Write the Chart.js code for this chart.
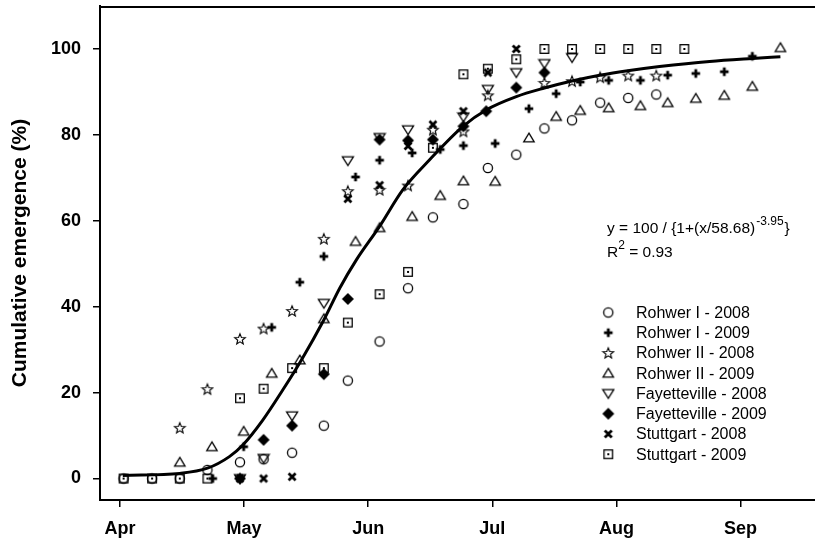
<!DOCTYPE html>
<html>
<head>
<meta charset="utf-8">
<script src="https://cdn.jsdelivr.net/npm/chart.js@4.4.1/dist/chart.umd.min.js"></script>
<style>
  html, body { margin: 0; padding: 0; background: #fff; }
  #wrap { width: 815px; height: 539px; }
</style>
</head>
<body>
<div id="wrap"><canvas id="chart" width="815" height="539"></canvas></div>
<script>
// x values are days after 1 April
const MONTH_TICKS = [0, 30.5, 61, 91.5, 122, 152.5];
const MONTH_LABELS = ["Apr", "May", "Jun", "Jul", "Aug", "Sep"];
const Y_TICKS = [0, 20, 40, 60, 80, 100];

const rohwer1_2008_days = [0.9, 7.9, 14.7, 21.5, 29.5, 35.3, 42.3, 50.1, 56.0, 63.8, 70.8, 76.9, 84.4, 90.4, 97.4, 104.3, 111.1, 118.0, 124.9, 131.8];
const rohwer1_2008_vals = [0, 0, 0, 2.0, 3.8, 4.5, 6.0, 12.3, 22.8, 31.9, 44.3, 60.8, 63.9, 72.3, 75.4, 81.5, 83.4, 87.5, 88.6, 89.4];

const rohwer1_2009_days = [22.8, 30.4, 37.3, 44.2, 50.1, 57.9, 63.8, 71.8, 78.7, 84.4, 92.2, 100.5, 107.2, 113.1, 120.1, 127.9, 134.6, 141.5, 148.5, 155.4];
const rohwer1_2009_vals = [0, 7.4, 35.2, 45.7, 51.7, 70.2, 74.1, 75.8, 76.6, 77.5, 78.0, 86.1, 89.6, 92.3, 92.7, 92.7, 93.9, 94.3, 94.7, 98.3];

const rohwer2_2008_days = [14.7, 21.5, 29.5, 35.3, 42.3, 50.1, 56.0, 63.8, 70.8, 76.9, 84.4, 90.4, 104.3, 111.1, 118.0, 124.9, 131.8];
const rohwer2_2008_vals = [11.8, 20.8, 32.5, 34.9, 39.0, 55.8, 66.9, 67.2, 68.2, 81.2, 80.8, 89.2, 92.1, 92.5, 93.4, 93.8, 93.8];

const rohwer2_2009_days = [14.7, 22.6, 30.4, 37.3, 44.2, 50.1, 57.9, 63.8, 71.8, 78.7, 84.4, 92.2, 100.5, 107.2, 113.1, 120.1, 127.9, 134.6, 141.5, 148.5, 155.4, 162.3];
const rohwer2_2009_vals = [3.8, 7.4, 11.0, 24.5, 27.6, 37.2, 55.2, 58.4, 61.0, 65.9, 69.3, 69.2, 79.3, 84.3, 85.7, 86.3, 86.8, 87.5, 88.5, 89.2, 91.3, 100.3];

const fay_2008_days = [29.5, 35.3, 42.3, 50.1, 56.0, 63.8, 70.8, 84.4, 90.4, 97.4, 104.3, 111.1];
const fay_2008_vals = [0, 4.7, 14.6, 40.8, 74.0, 79.4, 81.2, 84.2, 90.6, 94.5, 96.6, 98.0];

const fay_2009_days = [29.5, 35.3, 42.3, 50.1, 56.0, 63.8, 70.8, 76.9, 84.4, 90.0, 97.4, 104.3];
const fay_2009_vals = [0, 9.0, 12.3, 24.3, 41.8, 78.9, 78.7, 78.9, 82.0, 85.5, 91.0, 94.5];

const stutt_2008_days = [29.5, 35.3, 42.3, 56.0, 63.8, 70.8, 76.9, 84.4, 90.4, 97.4];
const stutt_2008_vals = [0, 0, 0.4, 65.1, 68.3, 77.4, 82.4, 85.5, 94.5, 100];

const stutt_2009_days = [0.9, 7.9, 14.7, 21.5, 29.5, 35.3, 42.3, 50.1, 56.0, 63.8, 70.8, 76.9, 84.4, 90.4, 97.4, 104.3, 111.1, 118.0, 124.9, 131.8, 138.7];
const stutt_2009_vals = [0, 0, 0, 0, 18.7, 20.9, 25.7, 25.7, 36.3, 42.9, 48.1, 77.0, 94.1, 95.4, 97.6, 100, 100, 100, 100, 100, 100];

// fitted curve
const fit_days = [0.7, 14.7, 21.5, 26.9, 30.2, 35.1, 40.0, 44.6, 50.1, 54.0, 58.1, 63.8, 69.5, 76.1, 84.3, 90.0, 97.4, 104.3, 111.3, 117.9, 125.2, 132.6, 144.9, 155.4, 162.3];
const fit_vals = [0.7, 1.2, 2.4, 5.1, 7.8, 13.6, 20.6, 27.6, 36.9, 44.3, 50.9, 58.7, 67.2, 74.2, 82.0, 85.8, 88.9, 90.9, 92.6, 93.9, 95.0, 95.9, 97.1, 97.8, 98.2];

const SERIES = [
  { label: "Rohwer I - 2008", marker: "circle", days: rohwer1_2008_days, vals: rohwer1_2008_vals },
  { label: "Rohwer I - 2009", marker: "plus", days: rohwer1_2009_days, vals: rohwer1_2009_vals },
  { label: "Rohwer II - 2008", marker: "star", days: rohwer2_2008_days, vals: rohwer2_2008_vals },
  { label: "Rohwer II - 2009", marker: "triUp", days: rohwer2_2009_days, vals: rohwer2_2009_vals },
  { label: "Fayetteville - 2008", marker: "triDown", days: fay_2008_days, vals: fay_2008_vals },
  { label: "Fayetteville - 2009", marker: "diamond", days: fay_2009_days, vals: fay_2009_vals },
  { label: "Stuttgart - 2008", marker: "cross", days: stutt_2008_days, vals: stutt_2008_vals },
  { label: "Stuttgart - 2009", marker: "boxDot", days: stutt_2009_days, vals: stutt_2009_vals }
];

const FONT = '"Liberation Sans", Arial, Helvetica, sans-serif';

function makeMarker(kind) {
  const c = document.createElement("canvas");
  c.width = 14;
  c.height = 14;
  const g = c.getContext("2d");
  const m = 7;
  g.strokeStyle = "#000";
  g.fillStyle = "#000";
  g.lineWidth = 1.3;
  g.beginPath();
  if (kind === "circle") {
    g.arc(m, m, 4.6, 0, Math.PI * 2);
    g.stroke();
  } else if (kind === "plus") {
    g.fillRect(m - 4.3, m - 1.4, 8.6, 2.8);
    g.fillRect(m - 1.4, m - 4.3, 2.8, 8.6);
  } else if (kind === "star") {
    for (let i = 0; i < 10; i++) {
      const r = i % 2 === 0 ? 5.6 : 2.4;
      const a = -Math.PI / 2 + (i * Math.PI) / 5;
      const px = m + r * Math.cos(a);
      const py = m + 0.5 + r * Math.sin(a);
      if (i === 0) g.moveTo(px, py);
      else g.lineTo(px, py);
    }
    g.closePath();
    g.lineWidth = 1.1;
    g.stroke();
  } else if (kind === "triUp") {
    g.moveTo(m, m - 4.8);
    g.lineTo(m + 5.2, m + 3.9);
    g.lineTo(m - 5.2, m + 3.9);
    g.closePath();
    g.stroke();
  } else if (kind === "triDown") {
    g.moveTo(m, m + 4.8);
    g.lineTo(m + 5.5, m - 3.9);
    g.lineTo(m - 5.5, m - 3.9);
    g.closePath();
    g.stroke();
  } else if (kind === "diamond") {
    g.moveTo(m, m - 6);
    g.lineTo(m + 6, m);
    g.lineTo(m, m + 6);
    g.lineTo(m - 6, m);
    g.closePath();
    g.fill();
  } else if (kind === "cross") {
    g.lineWidth = 2.8;
    g.moveTo(m - 3.5, m - 3.5);
    g.lineTo(m + 3.5, m + 3.5);
    g.moveTo(m + 3.5, m - 3.5);
    g.lineTo(m - 3.5, m + 3.5);
    g.stroke();
  } else if (kind === "boxDot") {
    g.strokeRect(m - 4.3, m - 4.3, 8.6, 8.6);
    g.fillRect(m - 1, m - 1, 2, 2);
  }
  return c;
}

const markers = {};
SERIES.forEach((s) => { markers[s.marker] = makeMarker(s.marker); });

const datasets = SERIES.map((s, i) => ({
  type: "scatter",
  label: s.label,
  data: s.days.map((d, k) => ({ x: d, y: s.vals[k] })),
  pointStyle: markers[s.marker],
  pointRadius: 5,
  showLine: false,
  order: SERIES.length - i + 1
}));

datasets.push({
  type: "line",
  label: "fit",
  data: fit_days.map((d, k) => ({ x: d, y: fit_vals[k] })),
  borderColor: "#000",
  borderWidth: 3,
  pointRadius: 0,
  fill: false,
  cubicInterpolationMode: "monotone",
  order: 0
});

function noPad(scale) {
  scale.paddingTop = 0;
  scale.paddingBottom = 0;
  scale.paddingLeft = 0;
  scale.paddingRight = 0;
}

const framePlugin = {
  id: "frame",
  afterDraw(chart) {
    const { ctx, chartArea } = chart;
    ctx.save();
    ctx.strokeStyle = "#000";
    ctx.lineWidth = 2;
    ctx.beginPath();
    ctx.moveTo(chartArea.left, chartArea.top + 1);
    ctx.lineTo(chartArea.right, chartArea.top + 1);
    ctx.stroke();

    // equation
    ctx.fillStyle = "#000";
    ctx.textBaseline = "alphabetic";
    ctx.textAlign = "left";
    let x = 607;
    ctx.font = `15.5px ${FONT}`;
    const eq = "y = 100 / {1+(x/58.68)";
    ctx.fillText(eq, x, 233);
    x += ctx.measureText(eq).width + 1;
    ctx.font = `12px ${FONT}`;
    ctx.fillText("-3.95", x, 225);
    x += ctx.measureText("-3.95").width + 1;
    ctx.font = `15.5px ${FONT}`;
    ctx.fillText("}", x, 233);

    x = 607;
    ctx.fillText("R", x, 257);
    x += ctx.measureText("R").width;
    ctx.font = `12px ${FONT}`;
    ctx.fillText("2", x, 249);
    x += ctx.measureText("2").width;
    ctx.font = `15.5px ${FONT}`;
    ctx.fillText(" = 0.93", x, 257);

    // legend
    ctx.font = `16px ${FONT}`;
    ctx.textBaseline = "middle";
    SERIES.forEach((s, i) => {
      const cy = 312.5 + i * 20.25;
      const img = markers[s.marker];
      ctx.drawImage(img, 608.3 - img.width / 2, cy - img.height / 2);
      ctx.fillText(s.label, 636, cy + 1);
    });
    ctx.restore();
  }
};

Chart.defaults.font.family = FONT;
Chart.defaults.color = "#000";

new Chart(document.getElementById("chart"), {
  data: { datasets },
  options: {
    responsive: false,
    animation: false,
    devicePixelRatio: 1,
    layout: { autoPadding: false, padding: { top: 6, right: 0, left: 0, bottom: 0 } },
    plugins: { legend: { display: false }, tooltip: { enabled: false } },
    scales: {
      x: {
        type: "linear",
        min: -4.9,
        max: 170.8,
        afterBuildTicks: (scale) => { scale.ticks = MONTH_TICKS.map((v) => ({ value: v })); },
        afterFit: (scale) => { scale.height = 39; noPad(scale); },
        ticks: {
          padding: 11,
          font: { size: 18, weight: "bold" },
          color: "#000",
          maxRotation: 0,
          autoSkip: false,
          callback: (v) => MONTH_LABELS[MONTH_TICKS.indexOf(v)] ?? ""
        },
        grid: { display: true, drawOnChartArea: false, drawTicks: true, tickLength: 7, color: "#000", lineWidth: 1.5 },
        border: { display: true, color: "#000", width: 2 }
      },
      y: {
        type: "linear",
        min: -5,
        max: 110,
        afterBuildTicks: (scale) => { scale.ticks = Y_TICKS.map((v) => ({ value: v })); },
        afterFit: (scale) => { scale.width = 100; noPad(scale); },
        ticks: {
          padding: 12,
          font: { size: 18, weight: "bold" },
          color: "#000",
          callback: (v) => String(v)
        },
        grid: { display: true, drawOnChartArea: false, drawTicks: true, tickLength: 7, color: "#000", lineWidth: 1.5 },
        border: { display: true, color: "#000", width: 2 },
        title: {
          display: true,
          text: "Cumulative emergence (%)",
          color: "#000",
          font: { size: 21, weight: "bold", lineHeight: 1.2 },
          padding: { top: 8, bottom: 0 }
        }
      }
    }
  },
  plugins: [framePlugin]
});
</script>
</body>
</html>
